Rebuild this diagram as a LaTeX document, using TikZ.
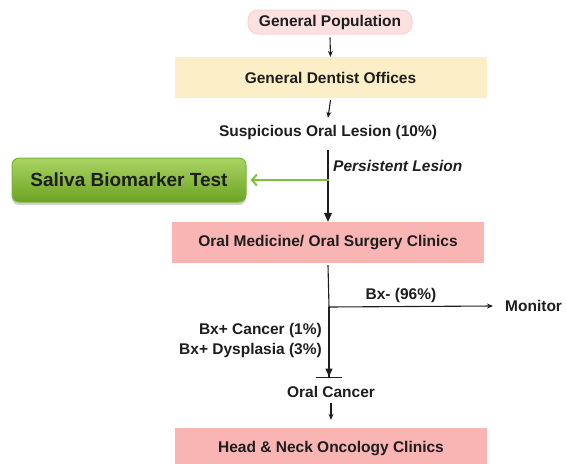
\documentclass[tikz,border=0pt]{standalone}
\usepackage{fontspec}
\setmainfont{Liberation Sans}
\usetikzlibrary{arrows.meta,shadows}
\definecolor{popfill}{HTML}{FDE1E1}
\definecolor{popdraw}{HTML}{F9D2D2}
\definecolor{dentfill}{HTML}{FCEFC8}
\definecolor{clinfill}{HTML}{F9B4B4}
\definecolor{greentop}{HTML}{A9D463}
\definecolor{greenbot}{HTML}{6CA324}
\definecolor{greendraw}{HTML}{7AB536}
\definecolor{greenarrow}{HTML}{7DC03B}
\definecolor{txt}{HTML}{1E1E1E}
\begin{document}
\begin{tikzpicture}[x=1pt,y=-1pt,
  every node/.style={font=\fontsize{15.5}{19}\selectfont\bfseries, text=txt, inner sep=0pt},
  wide/.style={minimum width=312pt, minimum height=41pt},
  arr/.style={draw=txt, line width=1.1pt, -{Stealth[length=6pt,width=5pt]}},
  bigarr/.style={draw=txt, line width=1.1pt, -{Triangle[length=9pt,width=8pt]}},
  bararr/.style={draw=txt, line width=1.1pt, -{Triangle[length=8pt,width=7pt]Bar[width=26pt,line width=1.4pt]}},
  greenarr/.style={draw=greenarrow, line width=2pt, -{Straight Barb[length=5pt,width=11pt,line width=2pt]}}
]
\useasboundingbox (0,0) rectangle (566,464);
\clip (0,0) rectangle (566,464);

\node[fill=popfill, draw=popdraw, line width=1pt, rounded corners=10pt,
      minimum width=164pt, minimum height=24pt] (pop) at (330,22) {General Population};
\node[wide, fill=dentfill] (dent) at (330.5,77.5) {General Dentist Offices};
\node[minimum height=16pt] (susp) at (328,132) {Suspicious Oral Lesion (10\%)};
\node[minimum width=234pt, minimum height=44pt, rounded corners=7pt,
      top color=greentop, bottom color=greenbot, draw=greendraw, line width=1pt,
      drop shadow={shadow xshift=0pt, shadow yshift=-3pt, opacity=0.3, fill=black!60},
      font=\fontsize{19}{22}\selectfont\bfseries] (sal) at (129,180) {Saliva Biomarker Test};
\node[wide, fill=clinfill] (oms) at (328,242.5) {Oral Medicine/ Oral Surgery Clinics};
\node[anchor=west, font=\fontsize{15.5}{19}\selectfont\bfseries\itshape] (pers) at (333,166) {Persistent Lesion};
\coordinate (gsplit) at (329,180);
\coordinate (bsplit) at (329,307);
\coordinate (tbar) at (329,378);
\node[anchor=west] (mon) at (505,306) {Monitor};
\node (bxneg) at (401,295) {Bx- (96\%)};
\node[anchor=east, align=right, font=\fontsize{15.5}{20}\selectfont\bfseries] (bxpos) at (322,340) {Bx+ Cancer (1\%)\\Bx+ Dysplasia (3\%)};
\node[minimum height=16pt] (oc) at (331,392) {Oral Cancer};
\node[wide, minimum height=42pt, fill=clinfill] (hn) at (331,449) {Head \& Neck Oncology Clinics};

\draw[arr] (pop.south) ++(0,3) coordinate (p1) (p1) -- (dent.north);
\draw[arr] ([yshift=-2pt]dent.south) -- ([yshift=6pt]susp.north);
\draw[bigarr] ([yshift=-10pt]susp.south) -- (oms.north);
\draw[greenarr] (gsplit) -- ([xshift=4pt]sal.east);
\draw[draw=txt, line width=1.1pt] (oms.south) ++(0,2) coordinate (o1) (o1) -- (bsplit);
\draw[bararr] (bsplit) -- (tbar);
\draw[arr] (bsplit) -- ([xshift=-12pt]mon.west);
\draw[arr] ([yshift=-3pt]oc.south) -- ([yshift=8pt]hn.north);
\end{tikzpicture}
\end{document}
